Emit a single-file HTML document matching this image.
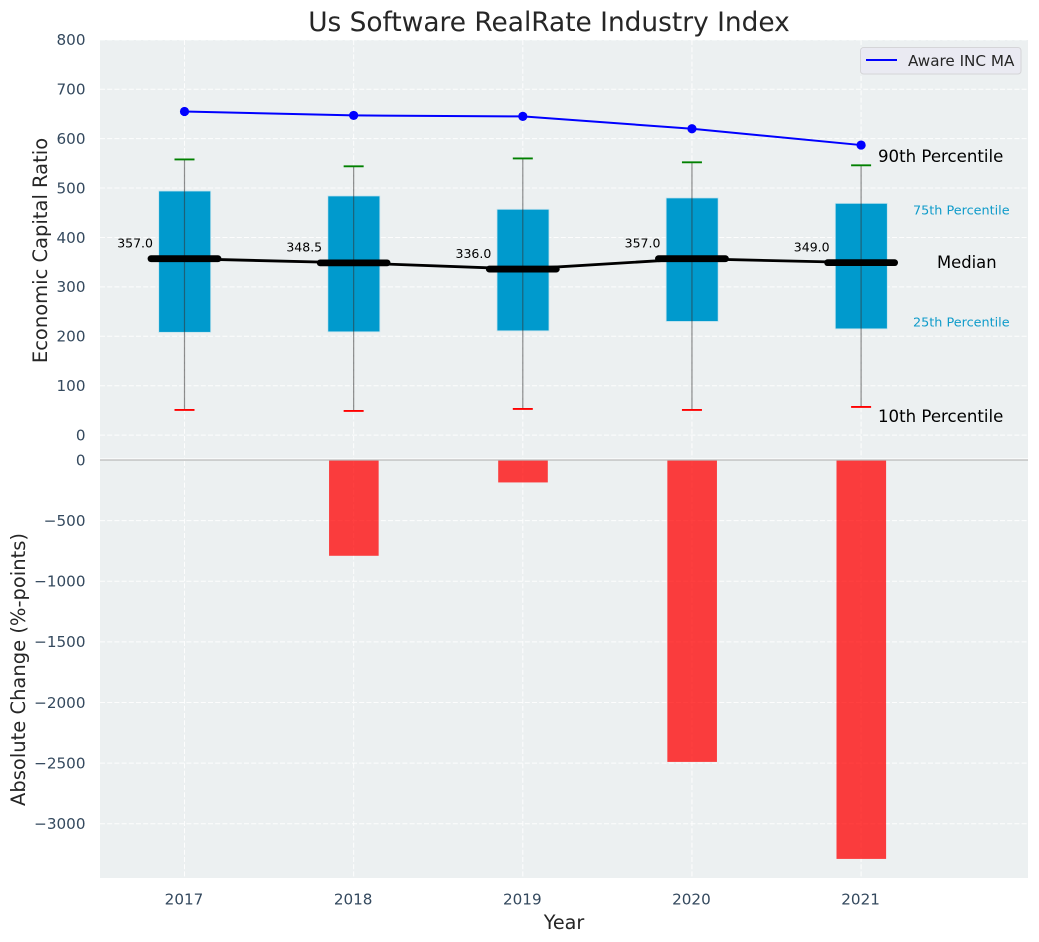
<!DOCTYPE html>
<html>
<head>
<meta charset="utf-8">
<title>Us Software RealRate Industry Index</title>
<style>
html,body{margin:0;padding:0;background:#fff;}
svg{display:block;font-family:"DejaVu Sans","Liberation Sans",sans-serif;}
</style>
</head>
<body>
<svg id="chart" width="1039" height="942" viewBox="0 0 1039 942" xmlns="http://www.w3.org/2000/svg"></svg>
<script>
const years = [2017, 2018, 2019, 2020, 2021];
const p90 = [558, 544, 560, 552, 546];
const p75 = [494, 484, 457, 480, 469];
const medians = [357, 348.5, 336, 357, 349];
const p25 = [208, 209, 211, 230, 215];
const p10 = [51, 49, 53, 51, 57];
const companyMA = [655, 647, 645, 620, 587];
const absChange = [0, -790, -185, -2490, -3290];
const topTicks = [0, 100, 200, 300, 400, 500, 600, 700, 800];
const bottomTicks = [0, -500, -1000, -1500, -2000, -2500, -3000];

const svg = document.getElementById('chart');
const NS = 'http://www.w3.org/2000/svg';
const L = 100, R = 1028, T = 40, B = 878;
const xAt = v => 184.5 + (v - 2017) * 169.15;
const yTop = v => 435.1 - v * 0.4941;
const yBot = v => 460 - v * 0.12125;

function make(tag, attrs, name, text) {
  const el = document.createElementNS(NS, tag);
  for (const k in attrs) el.setAttribute(k, attrs[k]);
  
  
  if (text !== undefined) el.textContent = text;
  svg.appendChild(el);
  return el;
}
function fmt(v) { return String(v).replace('-', '\u2212'); }

make('rect', {x: L, y: T, width: R - L, height: B - T, fill: '#ecf0f1'}, 'plot-background');
make('line', {x1: L, x2: R, y1: 459, y2: 459, stroke: '#ffffff', 'stroke-width': 1.2}, 'panel-separator');

const grid = {stroke: '#ffffff', 'stroke-width': 1, 'stroke-dasharray': '5 2.2', opacity: 0.9};
topTicks.forEach(t => {
  make('line', Object.assign({x1: L, x2: R, y1: yTop(t), y2: yTop(t)}, grid), 'top-gridline-' + t);
  make('text', {x: 85.5, y: yTop(t) + 5.3, 'text-anchor': 'end', 'font-size': 15.2, fill: '#34495e'}, 'top-y-tick-' + t, fmt(t));
});
bottomTicks.forEach(t => {
  if (t !== 0) make('line', Object.assign({x1: L, x2: R, y1: yBot(t), y2: yBot(t)}, grid), 'bottom-gridline-' + t);
  make('text', {x: 85.5, y: yBot(t) + 5.3, 'text-anchor': 'end', 'font-size': 15.2, fill: '#34495e'}, 'bottom-y-tick-' + t, fmt(t));
});
years.forEach(y => {
  make('line', Object.assign({x1: xAt(y), x2: xAt(y), y1: T, y2: 458}, grid), 'top-vertical-gridline-' + y);
  make('line', Object.assign({x1: xAt(y), x2: xAt(y), y1: 461, y2: B}, grid), 'bottom-vertical-gridline-' + y);
  make('text', {x: xAt(y) - 0.5, y: 904.5, 'text-anchor': 'middle', 'font-size': 15.2, fill: '#34495e'}, 'x-tick-' + y, String(y));
});

/* lower bars */
years.forEach((y, i) => {
  if (absChange[i] === 0) return;
  make('rect', {x: xAt(y) - 24.6, y: yBot(0), width: 49.6, height: yBot(absChange[i]) - yBot(0), fill: '#ff0000', 'fill-opacity': 0.75}, 'change-bar-' + y);
});
make('line', {x1: L, x2: R, y1: yBot(0), y2: yBot(0), stroke: '#b9b9b9', 'stroke-width': 1.3}, 'zero-line');

/* boxes */
years.forEach((y, i) => {
  const x = xAt(y);
  make('rect', {x: x - 26 + 0.2, y: yTop(p75[i]), width: 52, height: yTop(p25[i]) - yTop(p75[i]), fill: '#009acd', stroke: '#c6e4ee', 'stroke-width': 0.8}, 'box-' + y);
});
/* median connector */
make('polyline', {points: years.map((y, i) => xAt(y) + ',' + yTop(medians[i])).join(' '), fill: 'none', stroke: '#000000', 'stroke-width': 2.8}, 'median-line');
/* whiskers, caps, medians */
years.forEach((y, i) => {
  const x = xAt(y);
  make('line', {x1: x, x2: x, y1: yTop(p90[i]), y2: yTop(p10[i]), stroke: '#333333', 'stroke-opacity': 0.55, 'stroke-width': 1.2}, 'whisker-' + y);
  make('line', {x1: x - 10, x2: x + 10, y1: yTop(p90[i]), y2: yTop(p90[i]), stroke: '#008000', 'stroke-width': 1.9}, 'cap-90th-' + y);
  make('line', {x1: x - 10, x2: x + 10, y1: yTop(p10[i]), y2: yTop(p10[i]), stroke: '#ff0000', 'stroke-width': 1.9}, 'cap-10th-' + y);
  make('line', {x1: x - 33.5, x2: x + 33.5, y1: yTop(medians[i]), y2: yTop(medians[i]), stroke: '#000000', 'stroke-width': 6.8, 'stroke-linecap': 'round'}, 'median-bar-' + y);
  make('text', {x: x - 31.5, y: yTop(medians[i]) - 11.2, 'text-anchor': 'end', 'font-size': 12.5, fill: '#000000'}, 'median-label-' + y, medians[i].toFixed(1));
});
/* MA line */
make('polyline', {points: years.map((y, i) => xAt(y) + ',' + yTop(companyMA[i])).join(' '), fill: 'none', stroke: '#0000ff', 'stroke-width': 2}, 'company-ma-line');
years.forEach((y, i) => {
  make('circle', {cx: xAt(y), cy: yTop(companyMA[i]), r: 4.6, fill: '#0000ff'}, 'company-ma-point-' + y);
});

/* annotations */
make('text', {x: 878, y: 162, 'font-size': 16.6, fill: '#000000'}, 'annotation-90th-percentile', '90th Percentile');
make('text', {x: 913, y: 214.5, 'font-size': 12.8, fill: '#0f9bca'}, 'annotation-75th-percentile', '75th Percentile');
make('text', {x: 937, y: 268, 'font-size': 16.4, fill: '#000000'}, 'annotation-median', 'Median');
make('text', {x: 913, y: 326.5, 'font-size': 12.8, fill: '#0f9bca'}, 'annotation-25th-percentile', '25th Percentile');
make('text', {x: 878, y: 422, 'font-size': 16.6, fill: '#000000'}, 'annotation-10th-percentile', '10th Percentile');

/* legend */
make('rect', {x: 860.5, y: 47.5, width: 160.5, height: 26.5, rx: 3, fill: '#eaeaf2', stroke: '#d5d5d8', 'stroke-width': 1}, 'legend-box');
make('line', {x1: 866, x2: 897, y1: 60, y2: 60, stroke: '#0000ff', 'stroke-width': 2}, 'legend-line');
make('text', {x: 908, y: 66, 'font-size': 15.2, fill: '#262626'}, 'legend-label', 'Aware INC MA');

/* titles */
make('text', {x: 549, y: 31, 'text-anchor': 'middle', 'font-size': 26.4, fill: '#262626'}, 'chart-title', 'Us Software RealRate Industry Index');
make('text', {x: 564, y: 929, 'text-anchor': 'middle', 'font-size': 19.2, fill: '#262626'}, 'x-axis-title', 'Year');
make('text', {x: 0, y: 0, transform: 'translate(47,250.5) rotate(-90)', 'text-anchor': 'middle', 'font-size': 19.5, fill: '#262626'}, 'top-y-axis-title', 'Economic Capital Ratio');
make('text', {x: 0, y: 0, transform: 'translate(25,669.5) rotate(-90)', 'text-anchor': 'middle', 'font-size': 19.5, fill: '#262626'}, 'bottom-y-axis-title', 'Absolute Change (%-points)');
</script>
</body>
</html>
